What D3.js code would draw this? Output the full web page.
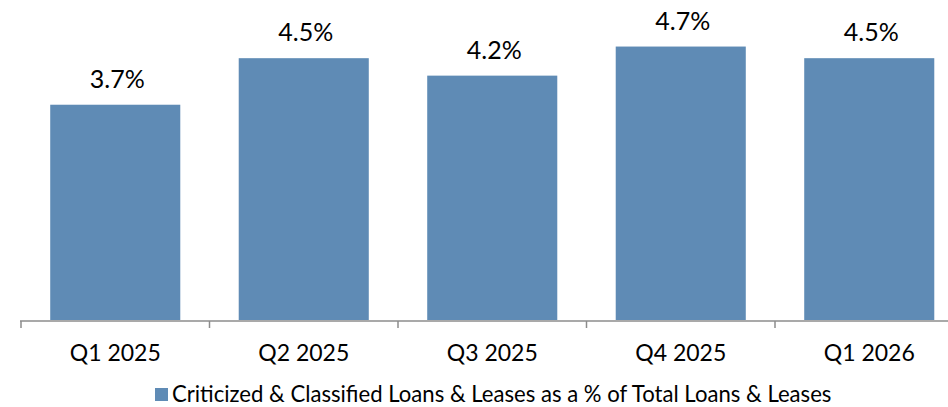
<!DOCTYPE html>
<html>
<head>
<meta charset="utf-8">
<script src="https://cdn.jsdelivr.net/npm/d3@7"></script>
<style>
  body { margin: 0; background: #fff; }
  svg { display: block; font-family: Lato, "Open Sans", sans-serif; }
</style>
</head>
<body>
<div id="chart"></div>
<script>
// data
const quarters = ["Q1 2025", "Q2 2025", "Q3 2025", "Q4 2025", "Q1 2026"];
const ratios = [3.7, 4.5, 4.2, 4.7, 4.5];
const seriesName = "Criticized & Classified Loans & Leases as a % of Total Loans & Leases";

const width = 948;
const height = 407;
const baseY = 320;
const barColor = "#5f8bb5";

const svg = d3.select("#chart")
  .append("svg")
  .attr("width", width)
  .attr("height", height);

const x = d3.scaleBand()
  .domain(quarters)
  .range([21, 21 + 188.5 * quarters.length])
  .paddingInner(0.31)
  .paddingOuter(0.155);

const y = d3.scaleLinear().domain([0, 5.5]).range([baseY, 0]);

// bars
svg.append("g")
  .selectAll("rect")
  .data(quarters)
  .join("rect")
  .attr("x", d => x(d))
  .attr("y", (d, i) => y(ratios[i]))
  .attr("width", x.bandwidth())
  .attr("height", (d, i) => baseY - y(ratios[i]))
  .attr("fill", barColor);

// value labels
svg.append("g")
  .selectAll("text")
  .data(quarters)
  .join("text")
  .attr("x", d => x(d) + x.bandwidth() / 2 + 2)
  .attr("y", (d, i) => y(ratios[i]) - 17)
  .attr("text-anchor", "middle")
  .attr("font-size", 25)
  .attr("fill", "#000")
  .text((d, i) => ratios[i].toFixed(1) + "%");

// x axis
const axis = svg.append("g")
  .attr("transform", `translate(0,${baseY + 1})`)
  .call(d3.axisBottom(x).tickSize(0).tickPadding(24));
axis.select(".domain").remove();
axis.selectAll("text")
  .attr("font-size", 23)
  .attr("fill", "#000")
  .attr("font-family", "Lato, sans-serif");

axis.append("line")
  .attr("x1", 20).attr("x2", width)
  .attr("y1", 0).attr("y2", 0)
  .attr("stroke", "#8c8c8c")
  .attr("stroke-width", 1.5);

const step = x.step();
const bounds = d3.range(quarters.length + 1).map(i => x.range()[0] + i * step);
axis.selectAll(".bound")
  .data(bounds.filter(b => b <= width))
  .join("line")
  .attr("class", "bound")
  .attr("x1", d => d).attr("x2", d => d)
  .attr("y1", 0).attr("y2", 7)
  .attr("stroke", "#8c8c8c")
  .attr("stroke-width", 1.5);

// legend
const legend = svg.append("g");
legend.append("rect")
  .attr("x", 155).attr("y", 388)
  .attr("width", 13).attr("height", 13)
  .attr("fill", barColor);
const lt = legend.append("text")
  .attr("x", 172).attr("y", 402)
  .attr("font-size", 20)
  .attr("fill", "#000")
  .text(seriesName);
const w = lt.node().getComputedTextLength();
lt.attr("font-size", 20 * 660 / w);
</script>
</body>
</html>
